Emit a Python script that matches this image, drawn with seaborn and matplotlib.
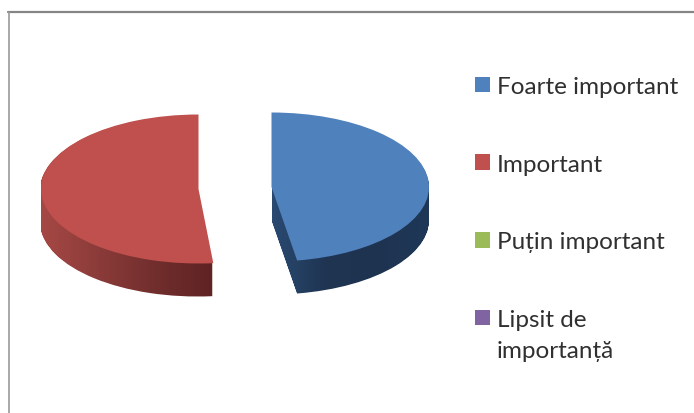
import numpy as np
import matplotlib
matplotlib.use("Agg")
import matplotlib.pyplot as plt
import seaborn as sns
from matplotlib.colors import LinearSegmentedColormap
from matplotlib.lines import Line2D
from matplotlib.patches import Patch, Rectangle
from matplotlib.path import Path
from matplotlib.legend_handler import HandlerPatch
from matplotlib.transforms import IdentityTransform

categories = ["Foarte important", "Important", "Puțin important", "Lipsit de\nimportanță"]
shares = [0.474, 0.515, 0.0, 0.0]
top_colors = ["#4F81BD", "#C0504D", "#9BBB59", "#8064A2"]
side_colors = [["#2A4A72", "#1F3552", "#1E3350", "#1F3858"],
               ["#A64845", "#8A3B39", "#6F2D2C", "#5E2222"]]

sns.set_theme(style="white")
plt.rcParams["font.family"] = ["Lato", "DejaVu Sans"]

W, H = 694, 414
RX, RY = 157.5, 74.5
DEPTH = 33

fig = plt.figure(figsize=(W / 100, H / 100), dpi=100, facecolor="white")
ax = fig.add_axes([0, 0, 1, 1])


def to_axes(px, py):
    return px / RX, (H - py) / RY


def wedge(share, px, py, counterclock, color, zorder):
    wedges, _ = ax.pie([share], normalize=False, startangle=90,
                       counterclock=counterclock, colors=[color],
                       center=to_axes(px, py), radius=1.0, frame=False)
    wedges[0].set_zorder(zorder)
    wedges[0].set_linewidth(0)
    return wedges[0]


layout = [(271.5, 188, False), (198.5, 190, True)]
for i, (px, py, ccw) in enumerate(layout):
    inset = -1.0 if ccw else 0.0
    stack = [wedge(shares[i], px + inset, py + d, ccw, "none", 1) for d in range(1, DEPTH + 1)]
    ax.set_xlim(0, W / RX)
    ax.set_ylim(0, H / RY)
    ax.set_aspect("auto")
    fig.canvas.draw()
    clip = Path.make_compound_path(*[s.get_path().transformed(s.get_transform()) for s in stack])
    for s in stack:
        s.remove()
    cmap = LinearSegmentedColormap.from_list("side", side_colors[i])
    x0 = (px - RX if ccw else px) / RX
    x1 = ((px + 20) if ccw else (px + RX)) / RX
    img = ax.imshow(np.linspace(0, 1, 256)[None, :], cmap=cmap, aspect="auto",
                    extent=(x0, x1, 0, H / RY), zorder=1)
    img.set_clip_path(clip, transform=IdentityTransform())
    wedge(shares[i], px, py, ccw, top_colors[i], 2)

ax.set_xlim(0, W / RX)
ax.set_ylim(0, H / RY)
ax.set_aspect("auto")
ax.set_axis_off()

# Chart frame
fig.add_artist(Line2D([8 / W, 1], [1 - 12.5 / H] * 2, color="#858585", lw=1.6))
fig.add_artist(Line2D([8.5 / W] * 2, [0, 1 - 12.5 / H], color="#9A9A9A", lw=1.2))

# Legend
FS = 17.5
handles = [Patch(facecolor=c, edgecolor="none", label=l) for c, l in zip(top_colors, categories)]


def square(offset):
    def make(legend, orig_handle, xdescent, ydescent, width, height, fontsize):
        return Rectangle((-xdescent, -ydescent + offset), width, height)
    return HandlerPatch(patch_func=make)


handler_map = {h: square(0) for h in handles[:3]}
handler_map[handles[3]] = square(12.5)
leg = ax.legend(handles=handles, handler_map=handler_map, frameon=False, fontsize=FS,
                loc="upper left", bbox_to_anchor=(475 / W, 1 - 77 / H),
                bbox_transform=fig.transFigure, borderaxespad=0, borderpad=0,
                labelspacing=2.33, handlelength=0.62, handleheight=0.62, handletextpad=0.29,
                labelcolor="#303030")
for t in leg.get_texts():
    t.set_linespacing(1.58)

fig.savefig("out.png", dpi=100)
